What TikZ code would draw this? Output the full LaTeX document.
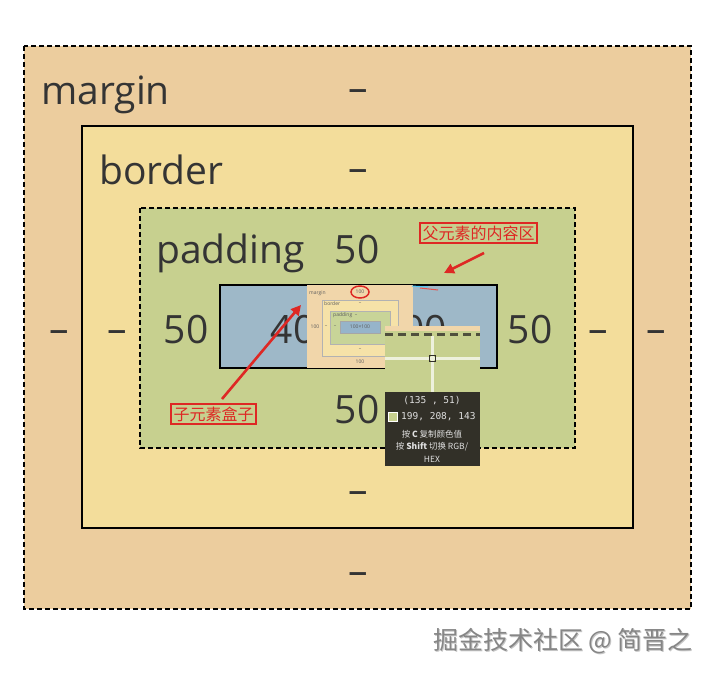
\documentclass[tikz,border=0pt]{standalone}
\usepackage{fontspec}
\setmainfont{Open Sans}
\newfontfamily\cjk{Noto Sans CJK SC}
\newfontfamily\monof{DejaVu Sans Mono}
\usetikzlibrary{arrows.meta}
\definecolor{marginc}{RGB}{236,205,158}
\definecolor{borderc}{RGB}{243,221,155}
\definecolor{paddingc}{RGB}{199,208,143}
\definecolor{contentc}{RGB}{158,184,200}
\definecolor{txtc}{RGB}{52,52,52}
\definecolor{notered}{RGB}{222,40,36}
\definecolor{pickerc}{RGB}{50,48,40}
\definecolor{ovmargin}{RGB}{241,214,170}
\definecolor{ovborder}{RGB}{246,226,168}
\definecolor{ovpad}{RGB}{200,212,152}
\definecolor{ovcontent}{RGB}{150,180,202}
\begin{document}
\begin{tikzpicture}[x=1pt,y=-1pt,
  big/.style={text=txtc,font=\fontsize{39}{41}\selectfont,inner sep=0pt},
  dashmark/.style={big,yshift=-6pt},
  tiny/.style={text=txtc!80,font=\fontsize{5}{6}\selectfont,inner sep=0pt},
  pick/.style={text=white!88!black,inner sep=0pt},
  solidedge/.style={line width=1.6pt},
  dashedge/.style={line width=1.6pt,dash pattern=on 5pt off 3pt},
  note/.style={draw=notered,line width=1.3pt,text=notered,
    font=\cjk\fontsize{16}{18}\selectfont,inner sep=2.5pt},
  pointer/.style={notered,line width=2.6pt,-{Triangle[length=10pt,width=10pt]}}]
  \useasboundingbox[fill=white] (0,0) rectangle (714,677);
  % the four boxes
  \draw[dashedge,fill=marginc] (24,46) rectangle (691,609);
  \draw[solidedge,fill=borderc] (82,126) rectangle (633,528);
  \draw[dashedge,fill=paddingc] (140,208) rectangle (575,448);
  \draw[solidedge,fill=contentc] (220,285) rectangle (497,368);
  % labels and values
  \node[big,anchor=base west] (marginlbl) at (41,104) {margin};
  \node[big,anchor=base west] (borderlbl) at (99,184) {border};
  \node[big,anchor=base west] (paddinglbl) at (156,263) {padding};
  \node[dashmark] (mtop) at (358,90) {–};
  \node[dashmark] (btop) at (358,170) {–};
  \node[big] (ptop) at (357,250) {50};
  \node[dashmark] (mleft) at (59,331) {–};
  \node[dashmark] (bleft) at (117,331) {–};
  \node[big] (pleft) at (186,330) {50};
  \node[big] (pright) at (530,330) {50};
  \node[dashmark] (bright) at (598,331) {–};
  \node[dashmark] (mright) at (656,331) {–};
  \node[big] (pbottom) at (357,410) {50};
  \node[dashmark] (bbottom) at (358,492) {–};
  \node[dashmark] (mbottom) at (358,573) {–};
  \node[big] (csize) at (359,330) {400 × 400};
  % small box model pasted over the content
  \fill[ovmargin] (307,285) rectangle (413,368);
  \draw[gray!60,line width=0.5pt,fill=ovborder] (322,300) rectangle (398,356);
  \draw[gray!60,line width=0.5pt,fill=ovpad] (330,311) rectangle (390,344);
  \draw[gray!70,line width=0.5pt,fill=ovcontent] (340,321) rectangle (380,333);
  \node[tiny,anchor=west] (smargin) at (309,293) {margin};
  \node[tiny] (stop) at (360,292) {100};
  \draw[notered,line width=1.5pt] (stop) ellipse (9 and 6);
  \node[tiny,anchor=west] (sborder) at (324,304) {border};
  \node[tiny] (sbtop) at (360,304) {–};
  \node[tiny,anchor=west] (spadding) at (333,315) {padding\ \ –};
  \node[tiny] (scontent) at (360,327) {100×100};
  \node[tiny] (sleft) at (315,327) {100};
  \node[tiny] (sbleft) at (326,327) {–};
  \node[tiny] (spleft) at (335,327) {–};
  \node[tiny] (spbottom) at (360,350) {–};
  \node[tiny] (sbottom) at (360,362) {100};
  \draw[cyan!70,line width=1pt] (412,286) -- (428,287);
  \draw[notered!80,line width=1pt] (420,288) -- (438,290);
  % colour picker
  \fill[pickerc] (385,326) rectangle (480,466);
  \fill[paddingc] (385,331) rectangle (480,392);
  \fill[ovmargin] (385,326) rectangle (480,331);
  \draw[pickerc!80!paddingc,line width=3pt,dash pattern=on 8pt off 5pt] (385,334) -- (480,334);
  \fill[white!70!paddingc] (430.5,336) rectangle (433.5,392);
  \fill[white!70!paddingc] (385,356.5) rectangle (480,359.5);
  \draw[pickerc,line width=0.8pt] (429,355) rectangle (435,361);
  \node[pick,font=\monof\fontsize{9.5}{11}\selectfont] (pos) at (432,401) {(135 , 51)};
  \draw[white,line width=0.6pt,fill=paddingc] (388,412) rectangle (397,421);
  \node[pick,anchor=west,font=\monof\fontsize{9.5}{11}\selectfont] (rgb) at (401,417) {199, 208, 143};
  \node[pick,font=\cjk\fontsize{8.5}{10}\selectfont] (hint1) at (432,434) {按 \textbf{C} 复制颜色值};
  \node[pick,font=\cjk\fontsize{8.5}{10}\selectfont] (hint2) at (432,447) {按 \textbf{Shift} 切换 RGB/};
  \node[pick,font=\cjk\fontsize{8.5}{10}\selectfont] (hint3) at (432,459) {HEX};
  % notes
  \node[note] (parentnote) at (478.5,233) {父元素的内容区};
  \coordinate (parenttip) at (444,273);
  \draw[pointer] (484,253) -- (parenttip);
  \node[note] (childnote) at (213.5,414) {子元素盒子};
  \coordinate (childtip) at (301,305);
  \draw[pointer] (222,399) -- (childtip);
  % watermark
  \node[text=gray!45,font=\cjk\fontsize{25}{28}\selectfont] (markshadow) at (564,642) {掘金技术社区 @ 简晋之};
  \node[text=gray!95,font=\cjk\fontsize{25}{28}\selectfont] (mark) at (563,641) {掘金技术社区 @ 简晋之};
\end{tikzpicture}
\end{document}
